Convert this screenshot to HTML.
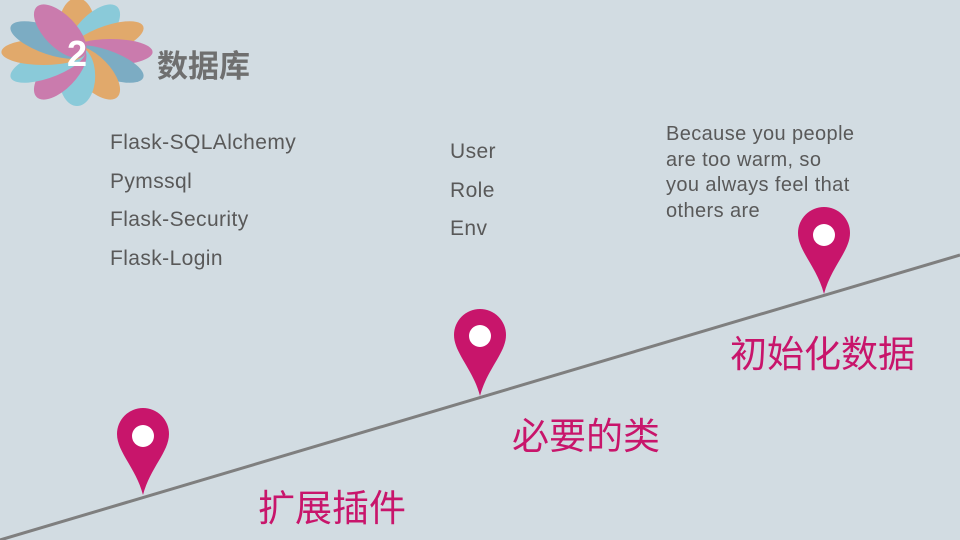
<!DOCTYPE html>
<html><head><meta charset="utf-8"><style>
body{margin:0;width:960px;height:540px;overflow:hidden;background:#d2dce2;position:relative;font-family:"Liberation Sans","Noto Sans CJK SC",sans-serif}
.t{position:absolute;color:#595959;font-size:21px;line-height:38.5px;letter-spacing:0.4px}
.m{position:absolute;color:#c8156b;font-size:37px;font-family:"Noto Sans CJK SC",sans-serif;white-space:nowrap}
</style></head><body>
<svg width="960" height="540" style="position:absolute;left:0;top:0">
<g transform="translate(77,52) scale(1.4,1)" opacity="0.72">
<ellipse rx="13" ry="30" transform="rotate(0) translate(0,-24)" fill="#e8963e"/>
<ellipse rx="13" ry="30" transform="rotate(30) translate(0,-24)" fill="#6fc4d6"/>
<ellipse rx="13" ry="30" transform="rotate(60) translate(0,-24)" fill="#e8963e"/>
<ellipse rx="13" ry="30" transform="rotate(90) translate(0,-24)" fill="#c8579a"/>
<ellipse rx="13" ry="30" transform="rotate(120) translate(0,-24)" fill="#5b9ab8"/>
<ellipse rx="13" ry="30" transform="rotate(150) translate(0,-24)" fill="#e8963e"/>
<ellipse rx="13" ry="30" transform="rotate(180) translate(0,-24)" fill="#6fc4d6"/>
<ellipse rx="13" ry="30" transform="rotate(210) translate(0,-24)" fill="#c8579a"/>
<ellipse rx="13" ry="30" transform="rotate(240) translate(0,-24)" fill="#6fc4d6"/>
<ellipse rx="13" ry="30" transform="rotate(270) translate(0,-24)" fill="#e8963e"/>
<ellipse rx="13" ry="30" transform="rotate(300) translate(0,-24)" fill="#5b9ab8"/>
<ellipse rx="13" ry="30" transform="rotate(330) translate(0,-24)" fill="#c8579a"/>
</g>
<text x="77" y="66" text-anchor="middle" fill="#fff" font-size="36" font-weight="bold" font-family="Liberation Sans">2</text>
<line x1="0" y1="540" x2="960" y2="255" stroke="#7f7f7f" stroke-width="3"/>
<g fill="#c8156b">
<path d="M117,434 A26,26 0 1 1 169,434 C169,452 150,468 143,495 C136,468 117,452 117,434Z"/>
<path d="M454,335 A26,26 0 1 1 506,335 C506,353 487,369 480,396 C473,369 454,353 454,335Z"/>
<path d="M798,233 A26,26 0 1 1 850,233 C850,251 831,267 824,294 C817,267 798,251 798,233Z"/>
</g>
<g fill="#fff"><circle cx="143" cy="436" r="11"/><circle cx="480" cy="336" r="11"/><circle cx="824" cy="235" r="11"/></g>
</svg>
<div style="position:absolute;left:157px;top:42px;font-size:31px;font-weight:bold;color:#6f6f6f;font-family:'Noto Sans CJK SC',sans-serif;line-height:44px">数据库</div>
<div class="t" style="left:110px;top:124px">Flask-SQLAlchemy<br>Pymssql<br>Flask-Security<br>Flask-Login</div>
<div class="t" style="left:450px;top:133px">User<br>Role<br>Env</div>
<div class="t" style="left:666px;top:122px;font-size:20px;line-height:25.5px">Because you people<br>are too warm, so<br>you always feel that<br>others are</div>
<div class="m" style="left:258px;top:478px">扩展插件</div>
<div class="m" style="left:512px;top:406px">必要的类</div>
<div class="m" style="left:730px;top:324px">初始化数据</div>
</body></html>
